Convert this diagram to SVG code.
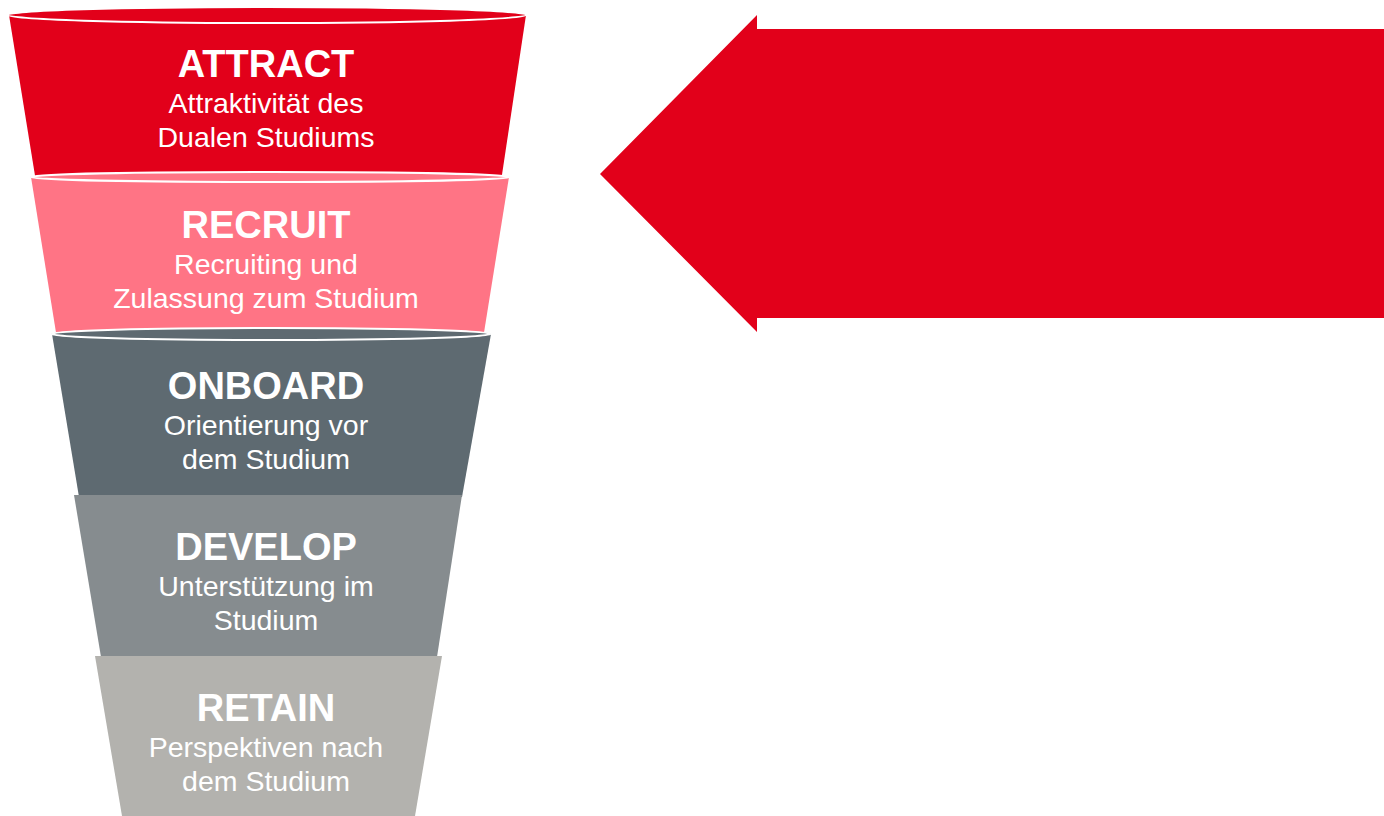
<svg xmlns="http://www.w3.org/2000/svg" width="1384" height="816" viewBox="0 0 1384 816">
<style>
.t{font-family:"Liberation Sans",Arial,sans-serif;font-weight:bold;font-size:38px;fill:#fff;text-anchor:middle}
.s{font-family:"Liberation Sans",Arial,sans-serif;font-size:28.5px;fill:#fff;text-anchor:middle}
.rim{stroke:#fff;stroke-width:2}
</style>
<rect width="1384" height="816" fill="#fff"/>
<g id="attract">
<path d="M9,15 L37,188 L500,188 L526,15 Z" fill="#E2001A"/>
<ellipse cx="267" cy="15" rx="259" ry="8" fill="#E2001A" class="rim"/>
<text class="t" x="266" y="77">ATTRACT</text>
<text class="s" x="266" y="113">Attraktivität des</text>
<text class="s" x="266" y="147">Dualen Studiums</text>
</g>
<g id="recruit">
<path d="M31,177 L58,345 L482,345 L509,177 Z" fill="#FF7485"/>
<ellipse cx="270" cy="177" rx="240" ry="5" fill="#FF7485" class="rim"/>
<text class="t" x="266" y="238">RECRUIT</text>
<text class="s" x="266" y="274">Recruiting und</text>
<text class="s" x="266" y="308">Zulassung zum Studium</text>
</g>
<g id="onboard">
<path d="M52,334 L79,497 L462,497 L491,334 Z" fill="#5E6A71"/>
<ellipse cx="271" cy="334" rx="220" ry="6" fill="#5E6A71" class="rim"/>
<text class="t" x="266" y="399">ONBOARD</text>
<text class="s" x="266" y="435">Orientierung vor</text>
<text class="s" x="266" y="469">dem Studium</text>
</g>
<g id="develop">
<path d="M74,495 L101,657 L437,657 L462,495 Z" fill="#868C8F"/>
<text class="t" x="266" y="560">DEVELOP</text>
<text class="s" x="266" y="596">Unterstützung im</text>
<text class="s" x="266" y="630">Studium</text>
</g>
<g id="retain">
<path d="M95,656 L122,816 L415,816 L442,656 Z" fill="#B3B2AE"/>
<text class="t" x="266" y="721">RETAIN</text>
<text class="s" x="266" y="757">Perspektiven nach</text>
<text class="s" x="266" y="791">dem Studium</text>
</g>
<g id="arrow">
<polygon points="600,174 757,15 757,29 1384,29 1384,318 757,318 757,332" fill="#E2001A"/>
</g>
</svg>
